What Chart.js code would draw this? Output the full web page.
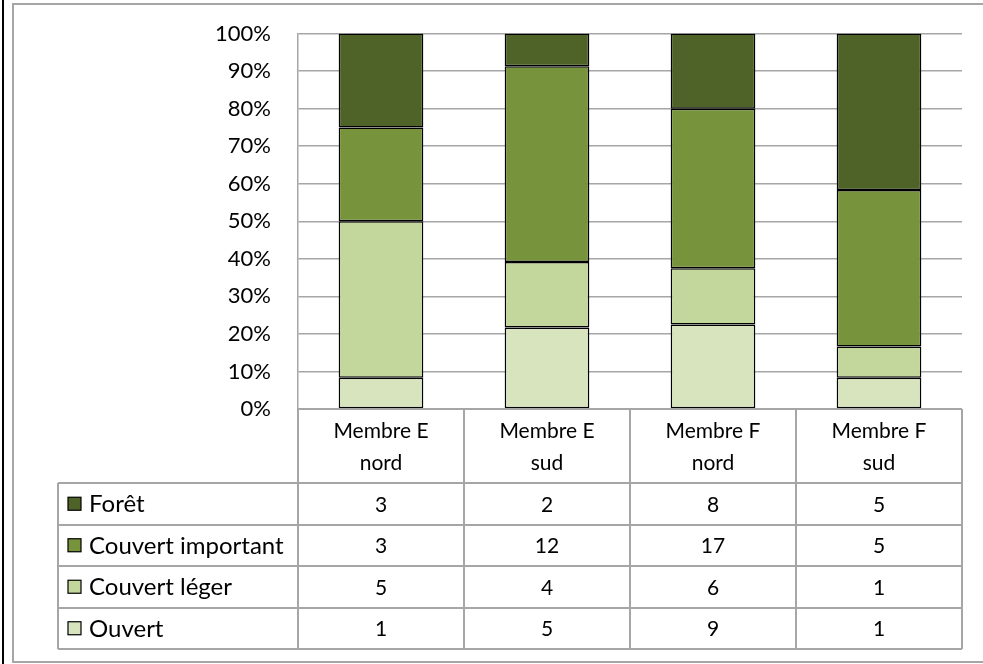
<!DOCTYPE html>
<html>
<head>
<meta charset="utf-8">
<script src="https://cdn.jsdelivr.net/npm/chart.js@4"></script>
<style>
  html, body { margin: 0; padding: 0; background: #fff; }
  #wrap { width: 983px; height: 664px; position: relative; }
</style>
</head>
<body>
<div id="wrap"><canvas id="c" width="983" height="664"></canvas></div>
<script>
// ---- Data ----
const categories = [["Membre E", "nord"], ["Membre E", "sud"], ["Membre F", "nord"], ["Membre F", "sud"]];
const seriesNames = ["Forêt", "Couvert important", "Couvert léger", "Ouvert"];
const foret = [3, 2, 8, 5];
const couvertImportant = [3, 12, 17, 5];
const couvertLeger = [5, 4, 6, 1];
const ouvert = [1, 5, 9, 1];
const yTicks = [0, 10, 20, 30, 40, 50, 60, 70, 80, 90, 100];

const colors = {
  "Forêt": "#4F6228",
  "Couvert important": "#77933C",
  "Couvert léger": "#C3D69B",
  "Ouvert": "#D7E4BD"
};
const counts = {
  "Forêt": foret,
  "Couvert important": couvertImportant,
  "Couvert léger": couvertLeger,
  "Ouvert": ouvert
};
const totals = categories.map((_, i) => seriesNames.reduce((s, n) => s + counts[n][i], 0));
const pct = arr => arr.map((v, i) => v / totals[i] * 100);

const FONT = "Lato";
const FS = 21;
const FS_TICK = 22;
const FS_ROW = 24;
const gridColor = "#A6A6A6";

// datasets bottom -> top
const stackOrder = ["Ouvert", "Couvert léger", "Couvert important", "Forêt"];
const datasets = stackOrder.map(n => ({
  label: n,
  data: pct(counts[n]),
  backgroundColor: colors[n],
  borderColor: "#000",
  borderWidth: 1.5,
  borderSkipped: false,
  barPercentage: 0.51,
  categoryPercentage: 1.0
}));

const frame = {
  id: "frame",
  beforeDraw(chart) {
    const ctx = chart.ctx;
    ctx.save();
    ctx.fillStyle = "#fff";
    ctx.fillRect(0, 0, chart.width, chart.height);
    ctx.strokeStyle = "#000";
    ctx.lineWidth = 2;
    ctx.beginPath(); ctx.moveTo(3, 0); ctx.lineTo(3, 664); ctx.stroke();
    ctx.strokeStyle = gridColor;
    ctx.lineWidth = 2;
    ctx.beginPath();
    ctx.moveTo(990, 4); ctx.lineTo(13, 4); ctx.lineTo(13, 662); ctx.lineTo(990, 662);
    ctx.stroke();
    ctx.restore();
  }
};

const dataTable = {
  id: "dataTable",
  afterDraw(chart) {
    const ctx = chart.ctx;
    const xs = chart.scales.x;
    const area = chart.chartArea;
    const n = categories.length;
    const colW = (area.right - area.left) / n;
    const top = area.bottom;
    const headerBottom = 483;
    const rowH = 41.5;
    const tableLeft = 58;
    const tableBottom = headerBottom + rowH * seriesNames.length;
    ctx.save();
    ctx.strokeStyle = gridColor;
    ctx.lineWidth = 2;
    // verticals
    for (let i = 0; i <= n; i++) {
      const x = Math.round(area.left + i * colW);
      ctx.beginPath(); ctx.moveTo(x, top); ctx.lineTo(x, tableBottom); ctx.stroke();
    }
    ctx.beginPath(); ctx.moveTo(tableLeft, headerBottom); ctx.lineTo(tableLeft, tableBottom); ctx.stroke();
    // horizontals
    ctx.beginPath(); ctx.moveTo(area.left, top); ctx.lineTo(area.right, top); ctx.stroke();
    for (let r = 0; r <= seriesNames.length; r++) {
      const y = Math.round(headerBottom + r * rowH);
      ctx.beginPath(); ctx.moveTo(tableLeft, y); ctx.lineTo(area.right, y); ctx.stroke();
    }
    // header labels
    ctx.fillStyle = "#000";
    ctx.font = FS + "px " + FONT;
    ctx.textAlign = "center";
    ctx.textBaseline = "middle";
    categories.forEach((lines, i) => {
      const cx = xs.getPixelForValue(i);
      ctx.fillText(lines[0], cx, 431);
      ctx.fillText(lines[1], cx, 463);
    });
    // rows
    seriesNames.forEach((name, r) => {
      const cy = headerBottom + r * rowH + rowH / 2;
      ctx.fillStyle = colors[name];
      ctx.fillRect(68, cy - 6.5, 13, 13);
      ctx.strokeStyle = "#000";
      ctx.lineWidth = 1.2;
      ctx.strokeRect(68, cy - 6.5, 13, 13);
      ctx.fillStyle = "#000";
      ctx.textAlign = "left";
      ctx.font = FS_ROW + "px " + FONT;
      ctx.fillText(name, 89, cy + 1);
      ctx.textAlign = "center";
      ctx.font = FS + "px " + FONT;
      counts[name].forEach((v, i) => {
        ctx.fillText(String(v), xs.getPixelForValue(i), cy + 1);
      });
    });
    ctx.restore();
  }
};

new Chart(document.getElementById("c"), {
  type: "bar",
  data: { labels: categories.map(l => l.join(" ")), datasets },
  options: {
    responsive: false,
    animation: false,
    devicePixelRatio: 1,
    layout: { padding: { left: 0, top: 33, right: 21, bottom: 255 } },
    plugins: { legend: { display: false }, tooltip: { enabled: false } },
    scales: {
      x: { stacked: true, display: false },
      y: {
        stacked: true,
        min: 0, max: 100,
        afterFit(s) { s.width = 298; },
        afterBuildTicks(s) { s.ticks = yTicks.map(v => ({ value: v })); },
        ticks: {
          callback: v => v + "%",
          color: "#000",
          font: { family: FONT, size: FS_TICK, lineHeight: 0.6 },
          padding: 27
        },
        grid: { color: gridColor, lineWidth: 1.5, drawTicks: false },
        border: { color: gridColor, width: 1.5 }
      }
    }
  },
  plugins: [frame, dataTable]
});
</script>
</body>
</html>
